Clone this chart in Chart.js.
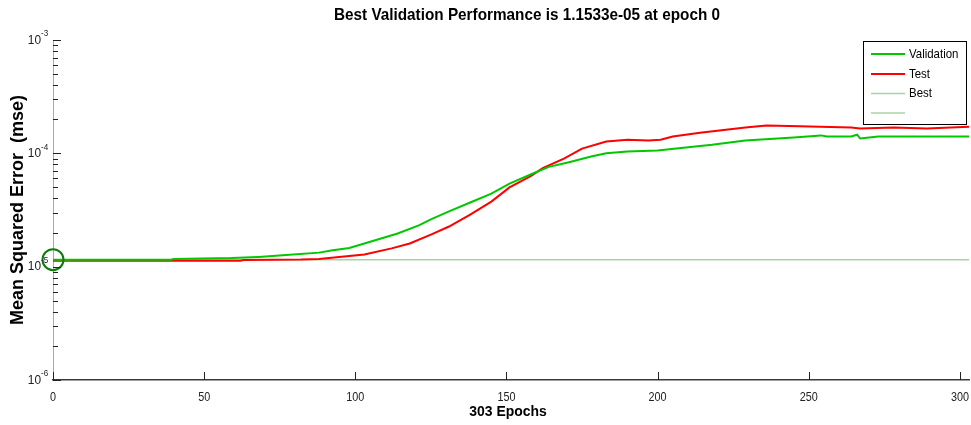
<!DOCTYPE html>
<html>
<head>
<meta charset="utf-8">
<script src="https://cdn.jsdelivr.net/npm/chart.js@4/dist/chart.umd.min.js"></script>
<style>
  html, body { margin: 0; padding: 0; background: #fff; }
  #wrap { width: 971px; height: 425px; }
</style>
</head>
<body>
<div id="wrap"><canvas id="perfChart"></canvas></div>
<script>
// Performance data (epoch, mse)
const valEpochs = [0, 39, 40, 59, 68, 76, 88, 92, 98, 103, 114, 121, 125, 131, 138, 145, 151, 158, 164, 171, 178, 183, 190, 200, 207, 218, 229, 245, 254, 256, 264, 266, 267, 273, 303];
const valMse = [1.153e-5, 1.153e-5, 1.17e-5, 1.19e-5, 1.22e-5, 1.26e-5, 1.33e-5, 1.39e-5, 1.46e-5, 1.60e-5, 1.96e-5, 2.31e-5, 2.61e-5, 3.07e-5, 3.68e-5, 4.41e-5, 5.41e-5, 6.5e-5, 7.6e-5, 8.4e-5, 9.37e-5, 1.00e-4, 1.04e-4, 1.06e-4, 1.11e-4, 1.19e-4, 1.30e-4, 1.38e-4, 1.44e-4, 1.41e-4, 1.41e-4, 1.46e-4, 1.35e-4, 1.41e-4, 1.41e-4];

const testEpochs = [0, 62, 63, 82, 88, 98, 103, 112, 118, 125, 131, 138, 145, 151, 158, 162, 169, 175, 183, 190, 197, 201, 205, 214, 229, 236, 247, 264, 267, 278, 289, 303];
const testMse = [1.13e-5, 1.13e-5, 1.145e-5, 1.155e-5, 1.17e-5, 1.245e-5, 1.28e-5, 1.45e-5, 1.60e-5, 1.92e-5, 2.26e-5, 2.88e-5, 3.75e-5, 5.0e-5, 6.3e-5, 7.4e-5, 8.99e-5, 1.10e-4, 1.27e-4, 1.32e-4, 1.30e-4, 1.32e-4, 1.41e-4, 1.52e-4, 1.69e-4, 1.76e-4, 1.73e-4, 1.69e-4, 1.66e-4, 1.69e-4, 1.66e-4, 1.72e-4];

const bestEpoch = 0;
const bestMse = 1.1533e-5;
const totalEpochs = 303;

const xTicks = [0, 50, 100, 150, 200, 250, 300];
const yTicks = [1e-6, 1e-5, 1e-4, 1e-3];
const legendLabels = ['Validation', 'Test', 'Best', ''];
const titleText = 'Best Validation Performance is 1.1533e-05 at epoch 0';
const xTitle = '303 Epochs';
const yTitle = 'Mean Squared Error  (mse)';

const colors = {
    validation: '#00c800',
    test: '#ff0000',
    best: '#a8d4a2',
    circle: '#0b7d0b',
};

const FAMILY = "'Liberation Sans', Arial, sans-serif";
Chart.defaults.font.family = FAMILY;

const toPoints = (xs, ys) => xs.map((x, i) => ({ x: x, y: ys[i] }));

// the picture is a bit squeezed sideways, so text is drawn narrowed
function squeezedText(ctx, text, x, y, font, align, sx) {
    ctx.save();
    ctx.translate(x, y);
    ctx.scale(sx, 1);
    ctx.font = font;
    ctx.textAlign = align;
    ctx.textBaseline = 'middle';
    ctx.fillText(text, 0, 0);
    ctx.restore();
}

// MATLAB-like axes: inward ticks, superscript labels, titles, boxed legend
const matlabAxes = {
    id: 'matlabAxes',
    afterDatasetsDraw(chart) {
        const ctx = chart.ctx;
        const xs = chart.scales.x;
        const ys = chart.scales.y;
        const area = chart.chartArea;
        ctx.save();
        ctx.strokeStyle = '#222';
        ctx.lineWidth = 1;

        // y ticks (major + minor), pointing into the plot
        ctx.beginPath();
        for (let d = -6; d < -3; d++) {
            for (let k = 1; k <= 9; k++) {
                const y = Math.round(ys.getPixelForValue(k * Math.pow(10, d))) + 0.5;
                const len = k === 1 ? 8 : 5;
                ctx.moveTo(area.left, y);
                ctx.lineTo(area.left + len, y);
            }
        }
        const yTop = Math.round(ys.getPixelForValue(1e-3)) + 0.5;
        ctx.moveTo(area.left, yTop);
        ctx.lineTo(area.left + 8, yTop);

        // x ticks
        xTicks.forEach(v => {
            const x = Math.round(xs.getPixelForValue(v)) + 0.5;
            ctx.moveTo(x, area.bottom);
            ctx.lineTo(x, area.bottom - 8);
        });
        ctx.stroke();

        ctx.fillStyle = '#222';
        // x tick labels
        xTicks.forEach(v => {
            squeezedText(ctx, String(v), xs.getPixelForValue(v), area.bottom + 17,
                '13.5px ' + FAMILY, 'center', 0.8);
        });
        // y tick labels 10^n
        yTicks.forEach(v => {
            const y = ys.getPixelForValue(v);
            squeezedText(ctx, '10', 41, y, '13.5px ' + FAMILY, 'right', 0.88);
            squeezedText(ctx, String(Math.round(Math.log10(v))), 41, y - 6, '8.5px ' + FAMILY, 'left', 0.95);
        });

        ctx.fillStyle = '#000';
        // chart title and x title
        squeezedText(ctx, titleText, 527, 15, 'bold 17px ' + FAMILY, 'center', 0.9);
        squeezedText(ctx, xTitle, 508, 412, 'bold 15.5px ' + FAMILY, 'center', 0.9);

        // y axis title (vertical, not squeezed)
        ctx.save();
        ctx.translate(18, 210);
        ctx.rotate(-Math.PI / 2);
        ctx.font = 'bold 18px ' + FAMILY;
        ctx.textAlign = 'center';
        ctx.textBaseline = 'middle';
        ctx.fillText(yTitle, 0, 0);
        ctx.restore();

        // legend box
        const lx = 863, ly = 41, lw = 103, lh = 83;
        ctx.fillStyle = '#fff';
        ctx.fillRect(lx, ly, lw, lh);
        ctx.strokeStyle = '#000';
        ctx.lineWidth = 1;
        ctx.strokeRect(lx + 0.5, ly + 0.5, lw, lh);
        const rows = [54, 74, 93.5, 113];
        chart.data.datasets.slice(0, 4).forEach((ds, i) => {
            const y = rows[i];
            ctx.strokeStyle = ds.borderColor;
            ctx.lineWidth = ds.borderWidth;
            ctx.beginPath();
            ctx.moveTo(871, y);
            ctx.lineTo(905, y);
            ctx.stroke();
            ctx.fillStyle = '#000';
            squeezedText(ctx, legendLabels[i], 909, y, '13px ' + FAMILY, 'left', 0.88);
        });
        ctx.restore();
    }
};

new Chart(document.getElementById('perfChart'), {
    type: 'line',
    data: {
        datasets: [
            {
                label: legendLabels[0],
                data: toPoints(valEpochs, valMse),
                borderColor: colors.validation,
                borderWidth: 2,
                pointRadius: 0,
                tension: 0,
            },
            {
                label: legendLabels[1],
                data: toPoints(testEpochs, testMse),
                borderColor: colors.test,
                borderWidth: 2,
                pointRadius: 0,
                tension: 0,
            },
            {
                label: legendLabels[2],
                data: [{ x: 0, y: bestMse }, { x: totalEpochs, y: bestMse }],
                borderColor: colors.best,
                borderWidth: 1.5,
                pointRadius: 0,
                order: 5,
            },
            {
                label: legendLabels[3],
                data: [{ x: bestEpoch, y: 1e-6 }, { x: bestEpoch, y: 1e-3 }],
                borderColor: colors.best,
                borderWidth: 1.5,
                pointRadius: 0,
                order: 5,
            },
            {
                label: 'bestPoint',
                data: [{ x: bestEpoch, y: bestMse }],
                showLine: false,
                borderColor: colors.circle,
                backgroundColor: 'rgba(0,0,0,0)',
                borderWidth: 2,
                pointRadius: 10.5,
                clip: false,
                order: -1,
            }
        ]
    },
    options: {
        responsive: true,
        maintainAspectRatio: false,
        animation: false,
        layout: { autoPadding: false, padding: { top: 40, right: 2 } },
        plugins: {
            legend: { display: false },
            tooltip: { enabled: false },
            title: { display: false }
        },
        scales: {
            x: {
                type: 'linear',
                min: 0,
                max: totalEpochs,
                afterBuildTicks: (scale) => { scale.ticks = xTicks.map(v => ({ value: v })); },
                afterFit: (scale) => { scale.height = 45; scale.paddingLeft = 0; scale.paddingRight = 0; },
                grid: { display: false, drawTicks: false },
                border: { display: true, color: '#3a3a3a', width: 1.5 },
                ticks: { display: false },
            },
            y: {
                type: 'logarithmic',
                min: 1e-6,
                max: 1e-3,
                afterFit: (scale) => { scale.width = 53; },
                grid: { display: false, drawTicks: false },
                border: { display: true, color: '#4e7a4e', width: 1 },
                ticks: { display: false },
            }
        }
    },
    plugins: [matlabAxes]
});
</script>
</body>
</html>
